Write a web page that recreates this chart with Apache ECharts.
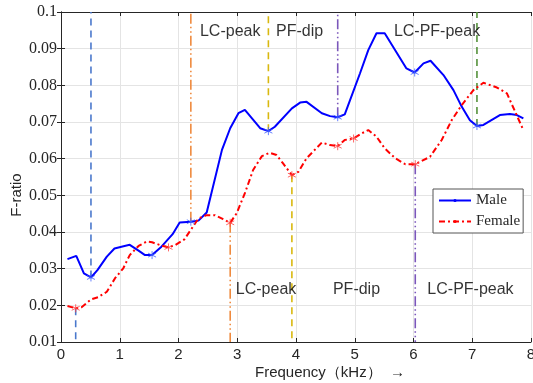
<!DOCTYPE html>
<html>
<head>
<meta charset="utf-8">
<script src="https://cdn.jsdelivr.net/npm/echarts@6/dist/echarts.min.js"></script>
<style>
  html, body { margin: 0; padding: 0; background: #fff; }
  #chart { width: 533px; height: 383px; }
</style>
</head>
<body>
<div id="chart"></div>
<script>
// values (kHz, F-ratio)
const maleFreq = [0.11, 0.26, 0.39, 0.51, 0.62, 0.78, 0.91, 1.03, 1.17, 1.32, 1.43, 1.55, 1.71, 1.90, 2.02, 2.21, 2.34, 2.48, 2.74, 2.88, 3.02, 3.13, 3.39, 3.53, 3.64, 3.93, 4.07, 4.18, 4.44, 4.58, 4.71, 4.83, 5.09, 5.23, 5.37, 5.51, 5.88, 6.02, 6.17, 6.29, 6.51, 6.68, 6.82, 6.96, 7.08, 7.19, 7.47, 7.64, 7.76, 7.87];
const maleRatio = [0.0326, 0.0335, 0.0287, 0.0276, 0.0296, 0.0333, 0.0355, 0.0360, 0.0365, 0.0349, 0.0337, 0.0337, 0.0360, 0.0394, 0.0426, 0.0428, 0.0431, 0.0453, 0.0624, 0.0683, 0.0724, 0.0733, 0.0683, 0.0675, 0.0687, 0.0737, 0.0753, 0.0755, 0.0724, 0.0716, 0.0713, 0.0721, 0.0833, 0.0896, 0.0942, 0.0942, 0.0846, 0.0835, 0.0860, 0.0867, 0.0828, 0.0787, 0.0742, 0.0705, 0.0689, 0.0692, 0.0719, 0.0722, 0.0719, 0.0710];

const femaleFreq = [0.11, 0.25, 0.35, 0.51, 0.63, 0.78, 0.92, 1.06, 1.17, 1.32, 1.46, 1.55, 1.71, 1.83, 1.95, 2.10, 2.34, 2.48, 2.62, 2.76, 2.88, 2.99, 3.13, 3.27, 3.42, 3.55, 3.67, 3.78, 3.93, 4.04, 4.18, 4.44, 4.58, 4.71, 4.83, 4.98, 5.12, 5.23, 5.37, 5.51, 5.69, 5.86, 6.03, 6.28, 6.48, 6.65, 6.82, 7.02, 7.19, 7.42, 7.59, 7.73, 7.87];
const femaleRatio = [0.0198, 0.0192, 0.0195, 0.0216, 0.0222, 0.0237, 0.0274, 0.0301, 0.0337, 0.0362, 0.0374, 0.0372, 0.0363, 0.0358, 0.0365, 0.0380, 0.0437, 0.0446, 0.0446, 0.0435, 0.0425, 0.0451, 0.0506, 0.0569, 0.0607, 0.0616, 0.0610, 0.0587, 0.0555, 0.0564, 0.0601, 0.0644, 0.0637, 0.0634, 0.0651, 0.0655, 0.0669, 0.0678, 0.0660, 0.0628, 0.0601, 0.0585, 0.0585, 0.0605, 0.0651, 0.0705, 0.0746, 0.0787, 0.0807, 0.0794, 0.0778, 0.0728, 0.0678];

// points marked with an asterisk (indices into the arrays above)
const maleMarkIdx = [3, 11, 15, 23, 30, 37, 44];
const femaleMarkIdx = [1, 13, 20, 28, 33, 35, 42];

// vertical guides: male ones go up to the top, female ones down to the bottom
const maleGuideIdx = [3, 15, 23, 30, 44];
const maleGuideColors = ['#4a78cc', '#ef8a3e', '#d9b80f', '#7b57bb', '#54913a'];
const femaleGuideIdx = [1, 20, 28, 42];
const femaleGuideColors = ['#4a78cc', '#ef8a3e', '#d9b80f', '#7b57bb'];

// annotation texts
const noteText = ['LC-peak', 'PF-dip', 'LC-PF-peak', 'LC-peak', 'PF-dip', 'LC-PF-peak'];
const noteFreq = [2.88, 4.06, 6.40, 3.49, 5.03, 6.97];
const noteRatio = [0.0946, 0.0946, 0.0946, 0.0242, 0.0242, 0.0242];

const yMin = 0.01, yMax = 0.1;
const dashed = [7, 5];
const dashDotDot = [10, 3, 1.5, 3, 1.5, 3];

const chart = echarts.init(document.getElementById('chart'));

const star = 'path://M0,-1L0,1M-0.87,-0.5L0.87,0.5M-0.87,0.5L0.87,-0.5';

const guideSeries = [];
maleGuideIdx.forEach((idx, k) => {
    guideSeries.push({
        type: 'line',
        data: [[maleFreq[idx], maleRatio[idx]], [maleFreq[idx], yMax]],
        symbol: 'none',
        silent: true,
        z: 1,
        lineStyle: { color: maleGuideColors[k], width: 1.6, type: (k % 2 === 1) ? dashDotDot : dashed },
    });
});
femaleGuideIdx.forEach((idx, k) => {
    guideSeries.push({
        type: 'line',
        data: [[femaleFreq[idx], femaleRatio[idx]], [femaleFreq[idx], yMin]],
        symbol: 'none',
        silent: true,
        z: 1,
        lineStyle: { color: femaleGuideColors[k], width: 1.6, type: (k % 2 === 1) ? dashDotDot : dashed },
    });
});

const option = {
    animation: false,
    grid: { left: 61, right: 2, top: 12, bottom: 41, show: false, outerBoundsMode: 'none', containLabel: false },
    legend: {
        data: ['Male', 'Female'],
        orient: 'vertical',
        left: 433,
        top: 189,
        padding: [3, 3, 3, 5],
        itemGap: 4,
        itemWidth: 32,
        itemHeight: 4,
        backgroundColor: '#fff',
        borderColor: '#555',
        borderWidth: 1,
        borderRadius: 0,
        textStyle: { fontFamily: 'Liberation Serif', fontSize: 15, color: '#262626', lineHeight: 17 },
    },
    xAxis: [
        {
            type: 'value',
            min: 0, max: 8, interval: 1,
            name: 'Frequency（kHz）  →',
            nameLocation: 'middle',
            nameGap: 23,
            nameMoveOverlap: false,
            nameTextStyle: { fontFamily: 'Liberation Sans', fontSize: 15, color: '#262626', padding: [0, 0, 0, 68] },
            axisLine: { lineStyle: { color: '#262626' } },
            axisTick: { inside: true, length: 4, lineStyle: { color: '#262626' } },
            axisLabel: { fontFamily: 'Liberation Sans', fontSize: 15, color: '#262626', margin: 5 },
            splitLine: { show: true, lineStyle: { color: '#e4e4e4' } },
        },
        {
            type: 'value', position: 'top',
            min: 0, max: 8, interval: 1,
            axisLine: { lineStyle: { color: '#262626' } },
            axisTick: { inside: true, length: 4, lineStyle: { color: '#262626' } },
            axisLabel: { show: false },
            splitLine: { show: false },
        },
    ],
    yAxis: [
        {
            type: 'value',
            min: yMin, max: yMax, interval: 0.01,
            name: 'F-ratio',
            nameLocation: 'middle',
            nameGap: 37,
            nameMoveOverlap: false,
            nameTextStyle: { fontFamily: 'Liberation Sans', fontSize: 15, color: '#262626', padding: [0, 36, 0, 0] },
            axisLine: { show: true, lineStyle: { color: '#262626' } },
            axisTick: { show: true, inside: true, length: 4, lineStyle: { color: '#262626' } },
            axisLabel: { fontFamily: 'Liberation Serif', fontSize: 16, color: '#262626', margin: 4 },
            splitLine: { show: true, lineStyle: { color: '#e4e4e4' } },
        },
        {
            type: 'value', position: 'right',
            min: yMin, max: yMax, interval: 0.01,
            axisLine: { show: true, lineStyle: { color: '#262626' } },
            axisTick: { show: true, inside: true, length: 4, lineStyle: { color: '#262626' } },
            axisLabel: { show: false },
            splitLine: { show: false },
        },
    ],
    series: [
        ...guideSeries,
        {
            name: 'Male',
            type: 'line',
            data: maleFreq.map((f, i) => [f, maleRatio[i]]),
            symbol: 'circle',
            showSymbol: false,
            z: 3,
            lineStyle: { color: '#0000ff', width: 2 },
            itemStyle: { color: '#0000ff' },
        },
        {
            name: 'Female',
            type: 'line',
            data: femaleFreq.map((f, i) => [f, femaleRatio[i]]),
            symbol: 'circle',
            showSymbol: false,
            z: 3,
            lineStyle: { color: '#ff0000', width: 2, type: [6, 3, 2, 3] },
            itemStyle: { color: '#ff0000' },
        },
        {
            type: 'scatter',
            data: maleMarkIdx.map((i) => [maleFreq[i], maleRatio[i]]),
            symbol: star,
            symbolSize: 8,
            silent: true,
            z: 4,
            itemStyle: { color: 'transparent', borderColor: '#4060ff', borderWidth: 1 },
        },
        {
            type: 'scatter',
            data: femaleMarkIdx.map((i) => [femaleFreq[i], femaleRatio[i]]),
            symbol: star,
            symbolSize: 8,
            silent: true,
            z: 4,
            itemStyle: { color: 'transparent', borderColor: '#ff4040', borderWidth: 1 },
        },
        {
            type: 'scatter',
            data: noteFreq.map((f, i) => [f, noteRatio[i], noteText[i]]),
            symbolSize: 1,
            silent: true,
            z: 5,
            itemStyle: { color: 'transparent' },
            label: {
                show: true,
                position: 'inside',
                formatter: (p) => p.value[2],
                fontFamily: 'Liberation Sans',
                fontSize: 16,
                color: '#000',
            },
        },
    ],
};

chart.setOption(option);
</script>
</body>
</html>
